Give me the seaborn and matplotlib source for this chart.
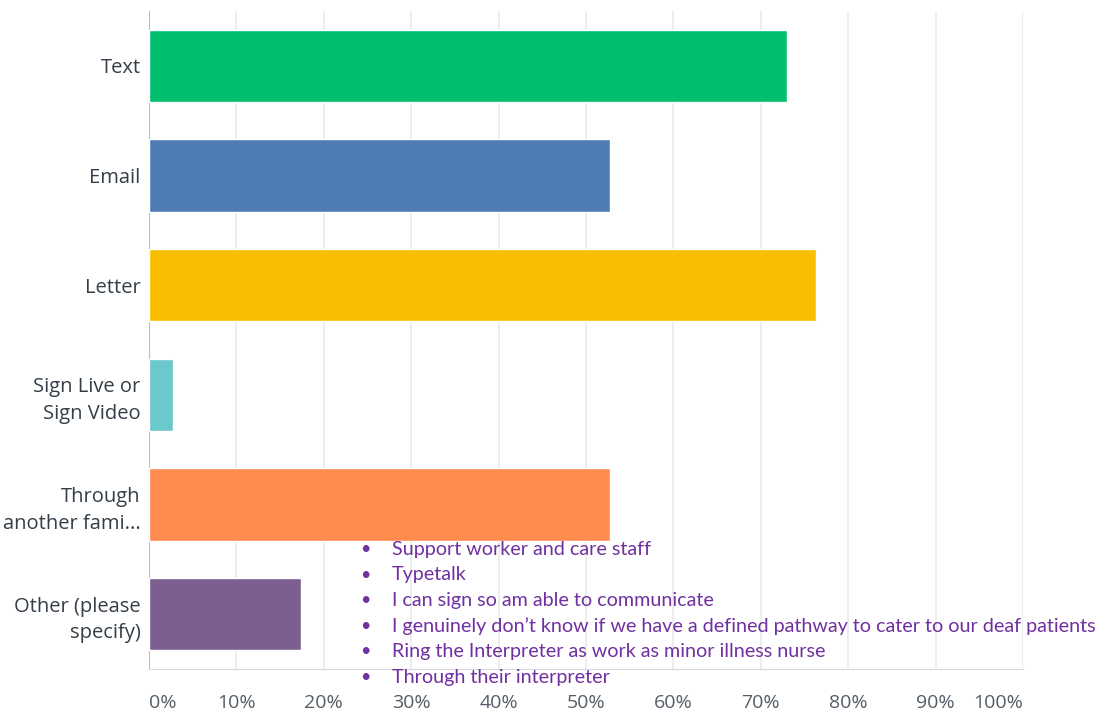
import matplotlib
matplotlib.use("Agg")
import matplotlib.pyplot as plt
import seaborn as sns
import pandas as pd

# data
categories = ["Text", "Email", "Letter", "Sign Live or\nSign Video",
              "Through\nanother fami...", "Other (please\nspecify)"]
percent = [73.0, 52.7, 76.3, 2.7, 52.7, 17.4]
bar_colors = ["#00BF6F", "#507CB6", "#F9BE00", "#6BC8CD", "#FF8B4F", "#7D5E90"]
tick_values = [0, 10, 20, 30, 40, 50, 60, 70, 80, 90, 100]
tick_labels = [f"{v}%" for v in tick_values]
other_answers = [
    "Support worker and care staff",
    "Typetalk",
    "I can sign so am able to communicate",
    "I genuinely don\u2019t know if we have a defined pathway to cater to our deaf patients",
    "Ring the Interpreter as work as minor illness nurse",
    "Through their interpreter",
]

df = pd.DataFrame({"category": categories, "percent": percent})

sns.set_style("white")
plt.rcParams["font.family"] = ["Open Sans", "DejaVu Sans"]

fig = plt.figure(figsize=(11.03, 7.14), dpi=100)
ax = fig.add_axes([149 / 1103, 1 - 669 / 714, (1023 - 149) / 1103, (669 - 11) / 714])

sns.barplot(data=df, x="percent", y="category", hue="category",
            palette=bar_colors, saturation=1, legend=False, width=0.66,
            ax=ax, zorder=3)

ax.set_xlim(0, 100)
ax.set_ylim(5.5, -0.5)
ax.set_xticks(tick_values)
ax.set_xticklabels(tick_labels, fontsize=14, color="#555d66")
xt = ax.get_xticklabels()
xt[0].set_horizontalalignment("left")
xt[-1].set_horizontalalignment("right")
ax.tick_params(axis="x", length=0, pad=18)
ax.tick_params(axis="y", length=0, pad=6)
ax.set_yticks(range(len(categories)))
ax.set_yticklabels(categories, fontsize=14.5, color="#333e48", linespacing=1.45)
ax.set_xlabel("")
ax.set_ylabel("")
ax.grid(axis="x", color="#e8e8e8", linewidth=1.1, zorder=0)

for side in ["top", "right"]:
    ax.spines[side].set_visible(False)
ax.spines["left"].set_color("#bdbdbd")
ax.spines["bottom"].set_color("#d9d9d9")

# free text answers overlaid as a bulleted list
y0 = 549
for i, line in enumerate(other_answers):
    y = 1 - (y0 + i * 25.6) / 714
    fig.text(360 / 1103, y, "\u2022", fontsize=13, color="#7030A0", va="center",
             family=["Lato", "DejaVu Sans"])
    fig.text(392 / 1103, y, line, fontsize=14.2, color="#7030A0", va="center",
             family=["Lato", "DejaVu Sans"])

fig.savefig("out.png", dpi=100)
